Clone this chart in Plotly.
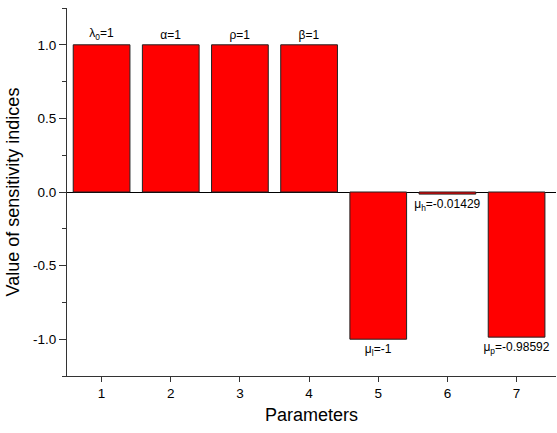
import plotly.graph_objects as go

params = [1, 2, 3, 4, 5, 6, 7]
values = [1, 1, 1, 1, -1, -0.01429, -0.98592]
labels = ["λ<sub>0</sub>=1", "α=1", "ρ=1", "β=1",
          "μ<sub>l</sub>=-1", "μ<sub>h</sub>=-0.01429", "μ<sub>p</sub>=-0.98592"]

FONT = "Liberation Sans, Arial, sans-serif"

fig = go.Figure()
fig.add_trace(go.Bar(
    x=params, y=values, width=0.82,
    marker=dict(color="#FF0000", line=dict(color="#222222", width=1)),
    text=labels, textposition="outside",
    textfont=dict(family=FONT, size=12, color="black"),
    cliponaxis=False,
))

fig.update_layout(
    width=557, height=433,
    margin=dict(l=67, r=1, t=8, b=57),
    plot_bgcolor="white", paper_bgcolor="white",
    showlegend=False,
    font=dict(family=FONT, color="black"),
    uniformtext=dict(minsize=12, mode="show"),
)
fig.update_xaxes(
    range=[0.5, 7.57], tickvals=params, ticktext=[str(p) for p in params],
    ticks="outside", ticklen=5, tickcolor="#333", showline=True, linecolor="#333",
    linewidth=1, showgrid=False, zeroline=False,
    tickfont=dict(size=13.5, family=FONT),
    title=dict(text="Parameters", font=dict(size=18, family=FONT), standoff=8),
)
fig.update_yaxes(
    range=[-1.25, 1.25], tickvals=[-1.0, -0.5, 0.0, 0.5, 1.0],
    ticktext=["-1.0", "-0.5", "0.0", "0.5", "1.0"],
    ticks="outside", ticklen=7, tickcolor="#333", showline=True, linecolor="#333",
    linewidth=1, showgrid=False, zeroline=True, zerolinecolor="black", zerolinewidth=1,
    minor=dict(tickvals=[-1.25, -0.75, -0.25, 0.25, 0.75, 1.25], ticks="outside",
               ticklen=4, tickcolor="#333"),
    tickfont=dict(size=13.5, family=FONT),
    title=dict(text="Value of sensitivity indices", font=dict(size=18, family=FONT), standoff=8),
)

fig.write_html("out.html")
